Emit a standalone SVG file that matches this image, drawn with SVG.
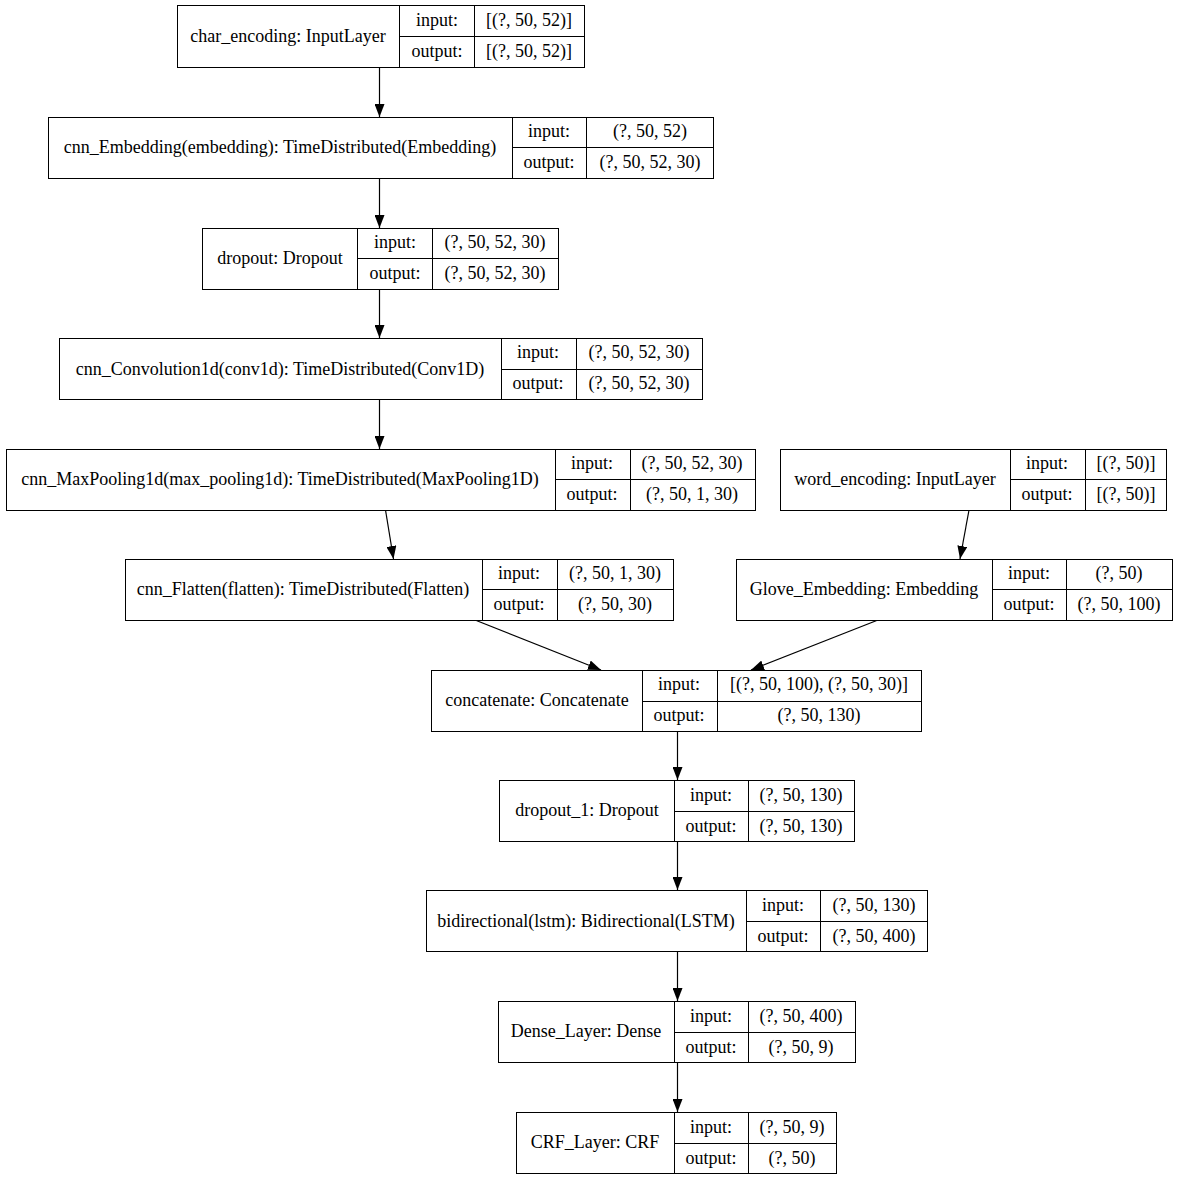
<svg xmlns="http://www.w3.org/2000/svg" width="1178" height="1180" viewBox="0 0 1178 1180">
<defs>
<style>
.b{fill:#fff;stroke:#000;stroke-width:1}
.d{stroke:#000;stroke-width:1;fill:none}
text{font-family:"Liberation Serif","Times New Roman",serif;font-size:18px;fill:#000;text-anchor:middle}
.e{stroke:#000;stroke-width:1.2;fill:none}
</style>
<marker id="ah" markerWidth="14" markerHeight="10" refX="13" refY="5" orient="auto" markerUnits="userSpaceOnUse">
<path d="M0,0 L13,5 L0,10 Z" fill="#000"/>
</marker>
</defs>
<rect width="1178" height="1180" fill="#fff"/>
<g id="connectors">
<line class="e" x1="379.5" y1="67" x2="379.5" y2="117" marker-end="url(#ah)"/>
<line class="e" x1="379.5" y1="178" x2="379.5" y2="228" marker-end="url(#ah)"/>
<line class="e" x1="379.5" y1="289" x2="379.5" y2="338" marker-end="url(#ah)"/>
<line class="e" x1="379.5" y1="399" x2="379.5" y2="449" marker-end="url(#ah)"/>
<line class="e" x1="385.5" y1="510" x2="393.5" y2="559" marker-end="url(#ah)"/>
<line class="e" x1="969" y1="510" x2="960" y2="559" marker-end="url(#ah)"/>
<line class="e" x1="475" y1="620" x2="601" y2="670" marker-end="url(#ah)"/>
<line class="e" x1="878" y1="620" x2="751" y2="670" marker-end="url(#ah)"/>
<line class="e" x1="677.5" y1="731" x2="677.5" y2="780" marker-end="url(#ah)"/>
<line class="e" x1="677.5" y1="841" x2="677.5" y2="890" marker-end="url(#ah)"/>
<line class="e" x1="677.5" y1="951" x2="677.5" y2="1001" marker-end="url(#ah)"/>
<line class="e" x1="677.5" y1="1062" x2="677.5" y2="1112" marker-end="url(#ah)"/>
</g>
<g id="char_encoding">
<rect class="b" x="177.5" y="5.5" width="407" height="62"/>
<path class="d" d="M399.5,5.5V67.5M474.5,5.5V67.5M399.5,36.5H584.5"/>
<text x="288" y="42">char_encoding: InputLayer</text>
<text x="437" y="26">input:</text><text x="437" y="57">output:</text>
<text x="529" y="26">[(?, 50, 52)]</text><text x="529" y="57">[(?, 50, 52)]</text>
</g>
<g id="cnn_Embedding">
<rect class="b" x="48.5" y="117.5" width="665" height="61"/>
<path class="d" d="M512.5,117.5V178.5M586.5,117.5V178.5M512.5,147.5H713.5"/>
<text x="280" y="153">cnn_Embedding(embedding): TimeDistributed(Embedding)</text>
<text x="549" y="137">input:</text><text x="549" y="168">output:</text>
<text x="650" y="137">(?, 50, 52)</text><text x="650" y="168">(?, 50, 52, 30)</text>
</g>
<g id="dropout">
<rect class="b" x="202.5" y="228.5" width="356" height="61"/>
<path class="d" d="M357.5,228.5V289.5M432.5,228.5V289.5M357.5,258.5H558.5"/>
<text x="280" y="264">dropout: Dropout</text>
<text x="395" y="248">input:</text><text x="395" y="279">output:</text>
<text x="495" y="248">(?, 50, 52, 30)</text><text x="495" y="279">(?, 50, 52, 30)</text>
</g>
<g id="cnn_Convolution1d">
<rect class="b" x="59.5" y="338.5" width="643" height="61"/>
<path class="d" d="M501.5,338.5V399.5M576.5,338.5V399.5M501.5,369.5H702.5"/>
<text x="280" y="375">cnn_Convolution1d(conv1d): TimeDistributed(Conv1D)</text>
<text x="538" y="358">input:</text><text x="538" y="389">output:</text>
<text x="639" y="358">(?, 50, 52, 30)</text><text x="639" y="389">(?, 50, 52, 30)</text>
</g>
<g id="cnn_MaxPooling1d">
<rect class="b" x="6.5" y="449.5" width="749" height="61"/>
<path class="d" d="M555.5,449.5V510.5M630.5,449.5V510.5M555.5,479.5H755.5"/>
<text x="280" y="485">cnn_MaxPooling1d(max_pooling1d): TimeDistributed(MaxPooling1D)</text>
<text x="592" y="469">input:</text><text x="592" y="500">output:</text>
<text x="692" y="469">(?, 50, 52, 30)</text><text x="692" y="500">(?, 50, 1, 30)</text>
</g>
<g id="word_encoding">
<rect class="b" x="780.5" y="449.5" width="386" height="61"/>
<path class="d" d="M1010.5,449.5V510.5M1085.5,449.5V510.5M1010.5,479.5H1166.5"/>
<text x="895" y="485">word_encoding: InputLayer</text>
<text x="1047" y="469">input:</text><text x="1047" y="500">output:</text>
<text x="1126" y="469">[(?, 50)]</text><text x="1126" y="500">[(?, 50)]</text>
</g>
<g id="cnn_Flatten">
<rect class="b" x="125.5" y="559.5" width="548" height="61"/>
<path class="d" d="M482.5,559.5V620.5M557.5,559.5V620.5M482.5,589.5H673.5"/>
<text x="303" y="595">cnn_Flatten(flatten): TimeDistributed(Flatten)</text>
<text x="519" y="579">input:</text><text x="519" y="610">output:</text>
<text x="615" y="579">(?, 50, 1, 30)</text><text x="615" y="610">(?, 50, 30)</text>
</g>
<g id="Glove_Embedding">
<rect class="b" x="736.5" y="559.5" width="436" height="61"/>
<path class="d" d="M992.5,559.5V620.5M1066.5,559.5V620.5M992.5,589.5H1172.5"/>
<text x="864" y="595">Glove_Embedding: Embedding</text>
<text x="1029" y="579">input:</text><text x="1029" y="610">output:</text>
<text x="1119" y="579">(?, 50)</text><text x="1119" y="610">(?, 50, 100)</text>
</g>
<g id="concatenate">
<rect class="b" x="431.5" y="670.5" width="490" height="61"/>
<path class="d" d="M642.5,670.5V731.5M717.5,670.5V731.5M642.5,701.5H921.5"/>
<text x="537" y="706">concatenate: Concatenate</text>
<text x="679" y="690">input:</text><text x="679" y="721">output:</text>
<text x="819" y="690">[(?, 50, 100), (?, 50, 30)]</text><text x="819" y="721">(?, 50, 130)</text>
</g>
<g id="dropout_1">
<rect class="b" x="499.5" y="780.5" width="355" height="61"/>
<path class="d" d="M674.5,780.5V841.5M748.5,780.5V841.5M674.5,811.5H854.5"/>
<text x="587" y="816">dropout_1: Dropout</text>
<text x="711" y="801">input:</text><text x="711" y="832">output:</text>
<text x="801" y="801">(?, 50, 130)</text><text x="801" y="832">(?, 50, 130)</text>
</g>
<g id="bidirectional">
<rect class="b" x="426.5" y="890.5" width="501" height="61"/>
<path class="d" d="M746.5,890.5V951.5M820.5,890.5V951.5M746.5,921.5H927.5"/>
<text x="586" y="927">bidirectional(lstm): Bidirectional(LSTM)</text>
<text x="783" y="911">input:</text><text x="783" y="942">output:</text>
<text x="874" y="911">(?, 50, 130)</text><text x="874" y="942">(?, 50, 400)</text>
</g>
<g id="Dense_Layer">
<rect class="b" x="498.5" y="1001.5" width="357" height="61"/>
<path class="d" d="M674.5,1001.5V1062.5M748.5,1001.5V1062.5M674.5,1032.5H855.5"/>
<text x="586" y="1037">Dense_Layer: Dense</text>
<text x="711" y="1022">input:</text><text x="711" y="1053">output:</text>
<text x="801" y="1022">(?, 50, 400)</text><text x="801" y="1053">(?, 50, 9)</text>
</g>
<g id="CRF_Layer">
<rect class="b" x="516.5" y="1112.5" width="320" height="61"/>
<path class="d" d="M674.5,1112.5V1173.5M748.5,1112.5V1173.5M674.5,1143.5H836.5"/>
<text x="595" y="1148">CRF_Layer: CRF</text>
<text x="711" y="1133">input:</text><text x="711" y="1164">output:</text>
<text x="792" y="1133">(?, 50, 9)</text><text x="792" y="1164">(?, 50)</text>
</g>
</svg>
